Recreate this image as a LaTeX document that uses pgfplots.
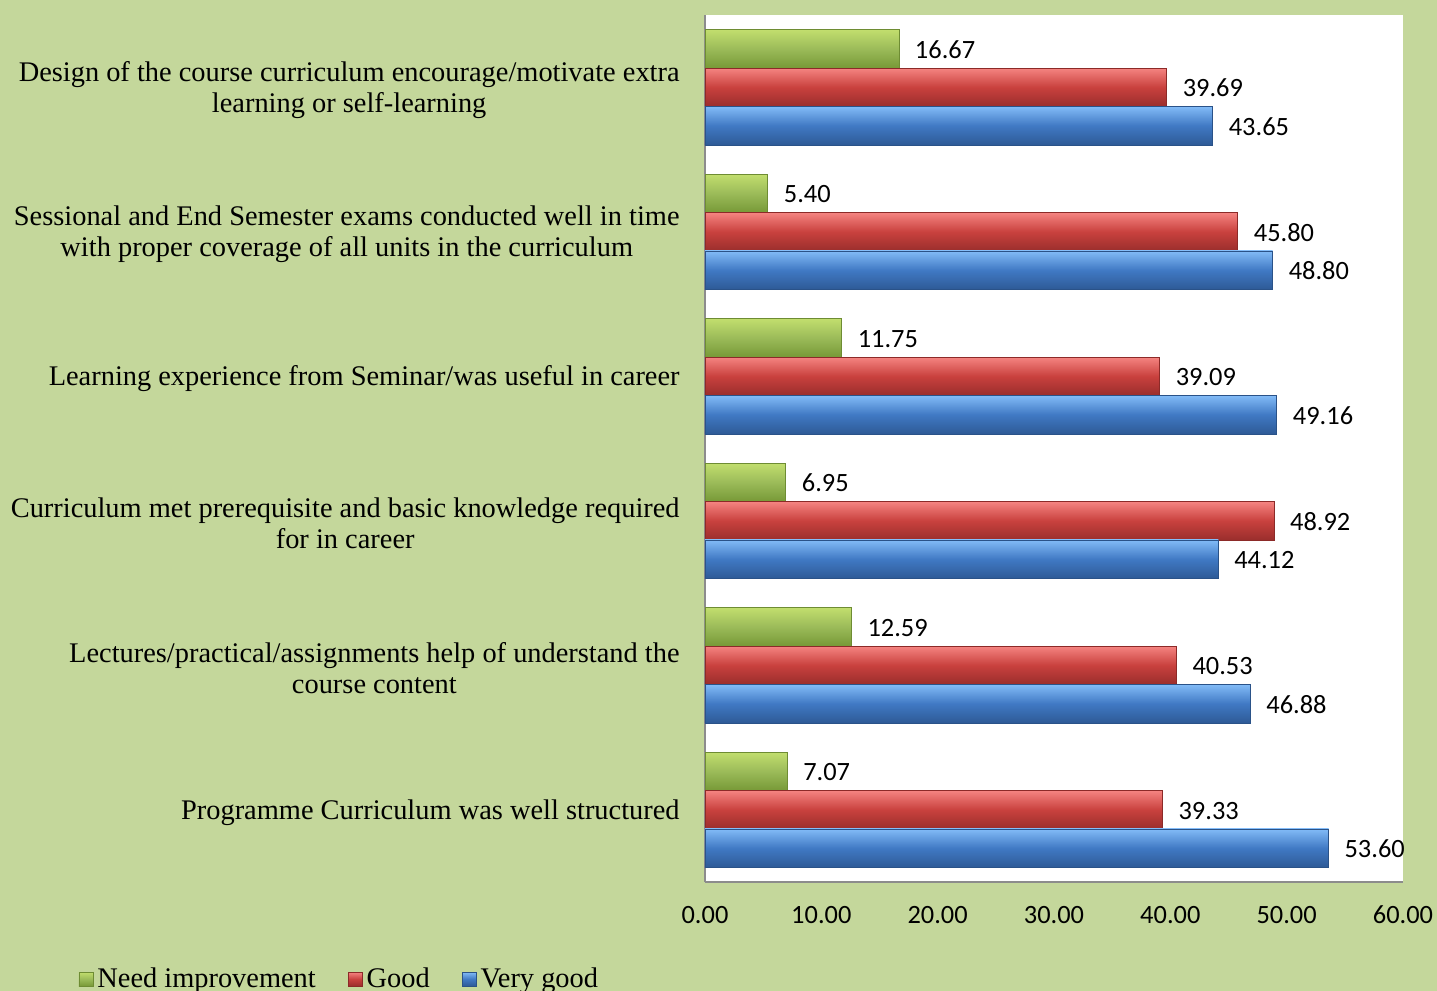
\documentclass[border=0pt]{standalone}
\usepackage{fontspec}
\setmainfont{Liberation Serif}
\newfontfamily\carlito{Carlito}
\usepackage{pgfplots}
\pgfplotsset{compat=1.18}
\definecolor{bg}{HTML}{C4D79B}
\definecolor{gTop}{HTML}{C2DE6E}
\definecolor{gMid}{HTML}{9BBB59}
\definecolor{gBot}{HTML}{779937}
\definecolor{gEdge}{HTML}{6E8C33}
\definecolor{rTop}{HTML}{F58481}
\definecolor{rMid}{HTML}{C9413E}
\definecolor{rBot}{HTML}{9A2E2C}
\definecolor{rEdge}{HTML}{8C2A28}
\definecolor{bTop}{HTML}{82BBF7}
\definecolor{bMid}{HTML}{4079C4}
\definecolor{bBot}{HTML}{2E5A96}
\definecolor{bEdge}{HTML}{2A5288}
\pgfplotsset{
  nistyle/.style={xbar, bar shift=0.266, draw=gEdge, top color=gTop, bottom color=gBot, middle color=gMid},
  gdstyle/.style={xbar, bar shift=0, draw=rEdge, top color=rTop, bottom color=rBot, middle color=rMid},
  vgstyle/.style={xbar, bar shift=-0.266, draw=bEdge, top color=bTop, bottom color=bBot, middle color=bMid},
}
\begin{document}
\begin{tikzpicture}
\fill[bg] (0,0) rectangle (718.5pt,495.5pt);
\clip (0,0) rectangle (718.5pt,495.5pt);
\begin{axis}[
  at={(352.5pt,54.5pt)}, anchor=south west,
  scale only axis, width=349pt, height=433.5pt,
  xmin=0, xmax=60, ymin=-0.5, ymax=5.5,
  xbar, bar width=0.266,
  axis background/.style={fill=white},
  axis x line*=bottom, axis y line*=left,
  axis line style={draw=black!45, line width=1pt, -},
  xtick={0,10,20,30,40,50,60},
  xticklabels={0.00,10.00,20.00,30.00,40.00,50.00,60.00},
  ytick={0,1,2,3,4,5},
  yticklabels={
    Programme Curriculum was well structured,
    {Lectures/practical/assignments help of understand the\\course content},
    {Curriculum met prerequisite and basic knowledge required\\for in career},
    Learning experience from Seminar/was useful in career,
    {Sessional and End Semester exams conducted well in time\\with proper coverage of all units in the curriculum},
    {Design of the course curriculum encourage/motivate extra\\learning or self-learning}},
  major tick length=0pt,
  yticklabel style={align=center, inner sep=0pt, xshift=-12.5pt, yshift=-1.3pt, font=\fontsize{14.2}{15.5}\selectfont},
  xticklabel style={anchor=center, inner sep=0pt, yshift=-16.5pt, font=\carlito\fontsize{13.2}{15}\selectfont},
  point meta=x,
  nodes near coords={\pgfmathprintnumber[fixed,fixed zerofill,precision=2,assume math mode=true]{\pgfplotspointmeta}},
  nodes near coords style={anchor=west, xshift=4.5pt, yshift=-0.4pt, font=\carlito\fontsize{13.2}{15}\selectfont, text=black},
  legend columns=3,
  legend cell align=left,
  legend image code/.code={\draw[#1] (0pt,-3.5pt) rectangle (7pt,3.5pt);},
  legend style={draw=none, fill=none, at={(axis description cs:-0.898,-0.112)}, anchor=west,
    font=\fontsize{14.2}{16}\selectfont, inner sep=0pt,
    /tikz/every even column/.append style={column sep=14pt}},
]
% Need improvement
\addplot[nistyle, forget plot] coordinates {(7.07,0)};
\addplot[nistyle, forget plot] coordinates {(12.59,1)};
\addplot[nistyle, forget plot] coordinates {(6.95,2)};
\addplot[nistyle, forget plot] coordinates {(11.75,3)};
\addplot[nistyle, forget plot] coordinates {(5.40,4)};
\addplot[nistyle, forget plot] coordinates {(16.67,5)};
% Good
\addplot[gdstyle, forget plot] coordinates {(39.33,0)};
\addplot[gdstyle, forget plot] coordinates {(40.53,1)};
\addplot[gdstyle, forget plot] coordinates {(48.92,2)};
\addplot[gdstyle, forget plot] coordinates {(39.09,3)};
\addplot[gdstyle, forget plot] coordinates {(45.80,4)};
\addplot[gdstyle, forget plot] coordinates {(39.69,5)};
% Very good
\addplot[vgstyle, forget plot] coordinates {(53.60,0)};
\addplot[vgstyle, forget plot] coordinates {(46.88,1)};
\addplot[vgstyle, forget plot] coordinates {(44.12,2)};
\addplot[vgstyle, forget plot] coordinates {(49.16,3)};
\addplot[vgstyle, forget plot] coordinates {(48.80,4)};
\addplot[vgstyle, forget plot] coordinates {(43.65,5)};
\addlegendimage{nistyle}\addlegendentry{Need improvement}
\addlegendimage{gdstyle}\addlegendentry{Good}
\addlegendimage{vgstyle}\addlegendentry{Very good}
\end{axis}
\end{tikzpicture}
\end{document}
